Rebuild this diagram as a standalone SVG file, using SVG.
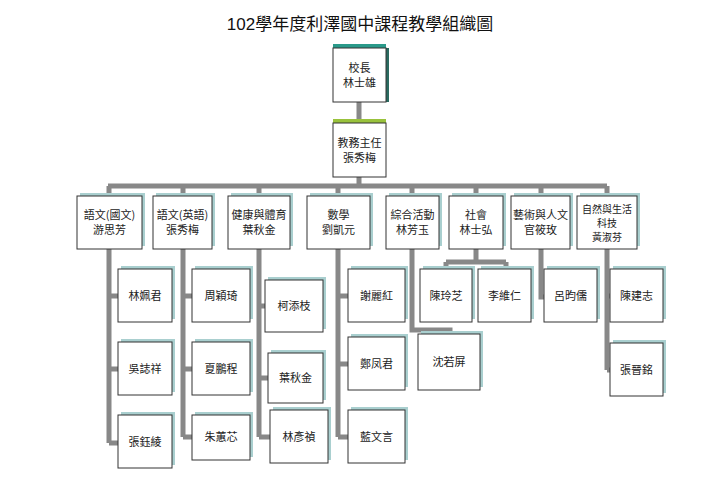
<svg xmlns="http://www.w3.org/2000/svg" width="720" height="498" viewBox="0 0 720 498">
<style>
.b{fill:#fff;stroke:#333;stroke-width:1}
.s{fill:#a9cfcf}
.t{font-family:"Noto Sans CJK TC","Noto Sans CJK SC",serif;font-size:11px;fill:#222;text-anchor:middle}
.t2{font-family:"Noto Sans CJK TC","Noto Sans CJK SC",serif;font-size:10px;fill:#222;text-anchor:middle}
.c{fill:none;stroke:#888;stroke-width:5}
</style>
<rect width="720" height="498" fill="#fff"/>
<text x="360" y="30" font-family="'Liberation Sans','Noto Sans CJK TC',sans-serif" font-size="17" text-anchor="middle" fill="#111">102學年度利澤國中課程教學組織圖</text>
<g id="connectors">
<path class="c" d="M359 102V123M359 176V186M108 186H607M109 186V196M183 186V196M259 186V196M338 186V196M412 186V196M476 186V196M541 186V196M607 186V196"/>
<path class="c" d="M109 249V443M109 296H118M109 369H118M109 443H118"/>
<path class="c" d="M183 249V437M183 296H192M183 369H192M183 437H192"/>
<path class="c" d="M259 249V437M259 306H265M259 378H268M259 437H270"/>
<path class="c" d="M338 249V437M338 296H348M338 364H348M338 437H348"/>
<path class="c" d="M412 249V330H450V334"/>
<path class="c" d="M476 249V262M446 262H506M446 262V269M506 262V269"/>
<path class="c" d="M541 249V297H544"/>
<path class="c" d="M607 249V370M607 296H610M607 370H610"/>
</g>
<g id="n0"><rect x="333" y="44" width="53" height="5" fill="#2a9a8a"/><rect x="386" y="48" width="3" height="54" fill="#2a6a60"/><rect class="b" x="333" y="48" width="53" height="54"/><text class="t" x="359.5" y="72">校長</text><text class="t" x="359.5" y="87">林士雄</text></g>
<g id="n1"><rect x="333" y="119" width="53" height="5" fill="#99c23c"/><rect class="b" x="333" y="123" width="53" height="54"/><text class="t" x="359.5" y="147">教務主任</text><text class="t" x="359.5" y="162">張秀梅</text></g>
<g id="d1"><rect class="s" x="80" y="193" width="65" height="53"/><rect class="b" x="77" y="196" width="65" height="53"/><text class="t" x="109.5" y="219">語文(國文)</text><text class="t" x="109.5" y="234">游思芳</text></g>
<g id="d2"><rect class="s" x="156" y="193" width="59" height="53"/><rect class="b" x="153" y="196" width="59" height="53"/><text class="t" x="182.5" y="219">語文(英語)</text><text class="t" x="182.5" y="234">張秀梅</text></g>
<g id="d3"><rect class="s" x="231" y="193" width="62" height="53"/><rect class="b" x="228" y="196" width="62" height="53"/><text class="t" x="259" y="219">健康與體育</text><text class="t" x="259" y="234">葉秋金</text></g>
<g id="d4"><rect class="s" x="310" y="193" width="63" height="53"/><rect class="b" x="307" y="196" width="63" height="53"/><text class="t" x="338.5" y="219">數學</text><text class="t" x="338.5" y="234">劉凱元</text></g>
<g id="d5"><rect class="s" x="389" y="193" width="53" height="53"/><rect class="b" x="386" y="196" width="53" height="53"/><text class="t" x="412.5" y="219">綜合活動</text><text class="t" x="412.5" y="234">林芳玉</text></g>
<g id="d6"><rect class="s" x="452" y="193" width="54" height="53"/><rect class="b" x="449" y="196" width="54" height="53"/><text class="t" x="476" y="219">社會</text><text class="t" x="476" y="234">林士弘</text></g>
<g id="d7"><rect class="s" x="514" y="193" width="59" height="53"/><rect class="b" x="511" y="196" width="59" height="53"/><text class="t" x="540.5" y="219">藝術與人文</text><text class="t" x="540.5" y="234">官筱玫</text></g>
<g id="d8"><rect class="s" x="580" y="193" width="60" height="53"/><rect class="b" x="577" y="196" width="60" height="53"/><text class="t2" x="607" y="213">自然與生活</text><text class="t2" x="607" y="227">科技</text><text class="t2" x="607" y="241">黃淑芬</text></g>
<g id="p1"><rect class="s" x="121" y="266" width="54" height="53"/><rect class="b" x="118" y="269" width="54" height="53"/><text class="t" x="145" y="300">林姵君</text></g>
<g id="p2"><rect class="s" x="121" y="339" width="54" height="53"/><rect class="b" x="118" y="342" width="54" height="53"/><text class="t" x="145" y="373">吳誌祥</text></g>
<g id="p3"><rect class="s" x="121" y="412" width="54" height="53"/><rect class="b" x="118" y="415" width="54" height="53"/><text class="t" x="145" y="446">張鈺綾</text></g>
<g id="p4"><rect class="s" x="195" y="266" width="58" height="53"/><rect class="b" x="192" y="269" width="58" height="53"/><text class="t" x="221" y="300">周穎琦</text></g>
<g id="p5"><rect class="s" x="195" y="339" width="58" height="53"/><rect class="b" x="192" y="342" width="58" height="53"/><text class="t" x="221" y="373">夏鵬程</text></g>
<g id="p6"><rect class="s" x="195" y="412" width="58" height="45"/><rect class="b" x="192" y="415" width="58" height="45"/><text class="t" x="221" y="441">朱蕙芯</text></g>
<g id="p7"><rect class="s" x="268" y="277" width="58" height="52"/><rect class="b" x="265" y="280" width="58" height="52"/><text class="t" x="294" y="310">柯添枝</text></g>
<g id="p8"><rect class="s" x="271" y="350" width="55" height="50"/><rect class="b" x="268" y="353" width="55" height="50"/><text class="t" x="295.5" y="382">葉秋金</text></g>
<g id="p9"><rect class="s" x="273" y="407" width="58" height="53"/><rect class="b" x="270" y="410" width="58" height="53"/><text class="t" x="299" y="441">林彥禎</text></g>
<g id="p10"><rect class="s" x="351" y="266" width="57" height="53"/><rect class="b" x="348" y="269" width="57" height="53"/><text class="t" x="376.5" y="300">謝麗紅</text></g>
<g id="p11"><rect class="s" x="351" y="334" width="57" height="53"/><rect class="b" x="348" y="337" width="57" height="53"/><text class="t" x="376.5" y="368">鄭凤君</text></g>
<g id="p12"><rect class="s" x="351" y="407" width="57" height="53"/><rect class="b" x="348" y="410" width="57" height="53"/><text class="t" x="376.5" y="441">藍文言</text></g>
<g id="p13"><rect class="s" x="421" y="331" width="62" height="56"/><rect class="b" x="418" y="334" width="62" height="56"/><text class="t" x="449" y="366">沈若屏</text></g>
<g id="p14"><rect class="s" x="423" y="266" width="52" height="53"/><rect class="b" x="420" y="269" width="52" height="53"/><text class="t" x="446" y="300">陳玲芝</text></g>
<g id="p15"><rect class="s" x="481" y="266" width="53" height="53"/><rect class="b" x="478" y="269" width="53" height="53"/><text class="t" x="504.5" y="300">李維仁</text></g>
<g id="p16"><rect class="s" x="547" y="266" width="53" height="53"/><rect class="b" x="544" y="269" width="53" height="53"/><text class="t" x="570.5" y="300">呂昀儒</text></g>
<g id="p17"><rect class="s" x="613" y="266" width="53" height="53"/><rect class="b" x="610" y="269" width="53" height="53"/><text class="t" x="636.5" y="300">陳建志</text></g>
<g id="p18"><rect class="s" x="613" y="340" width="53" height="53"/><rect class="b" x="610" y="343" width="53" height="53"/><text class="t" x="636.5" y="374">張晉銘</text></g>
</svg>
